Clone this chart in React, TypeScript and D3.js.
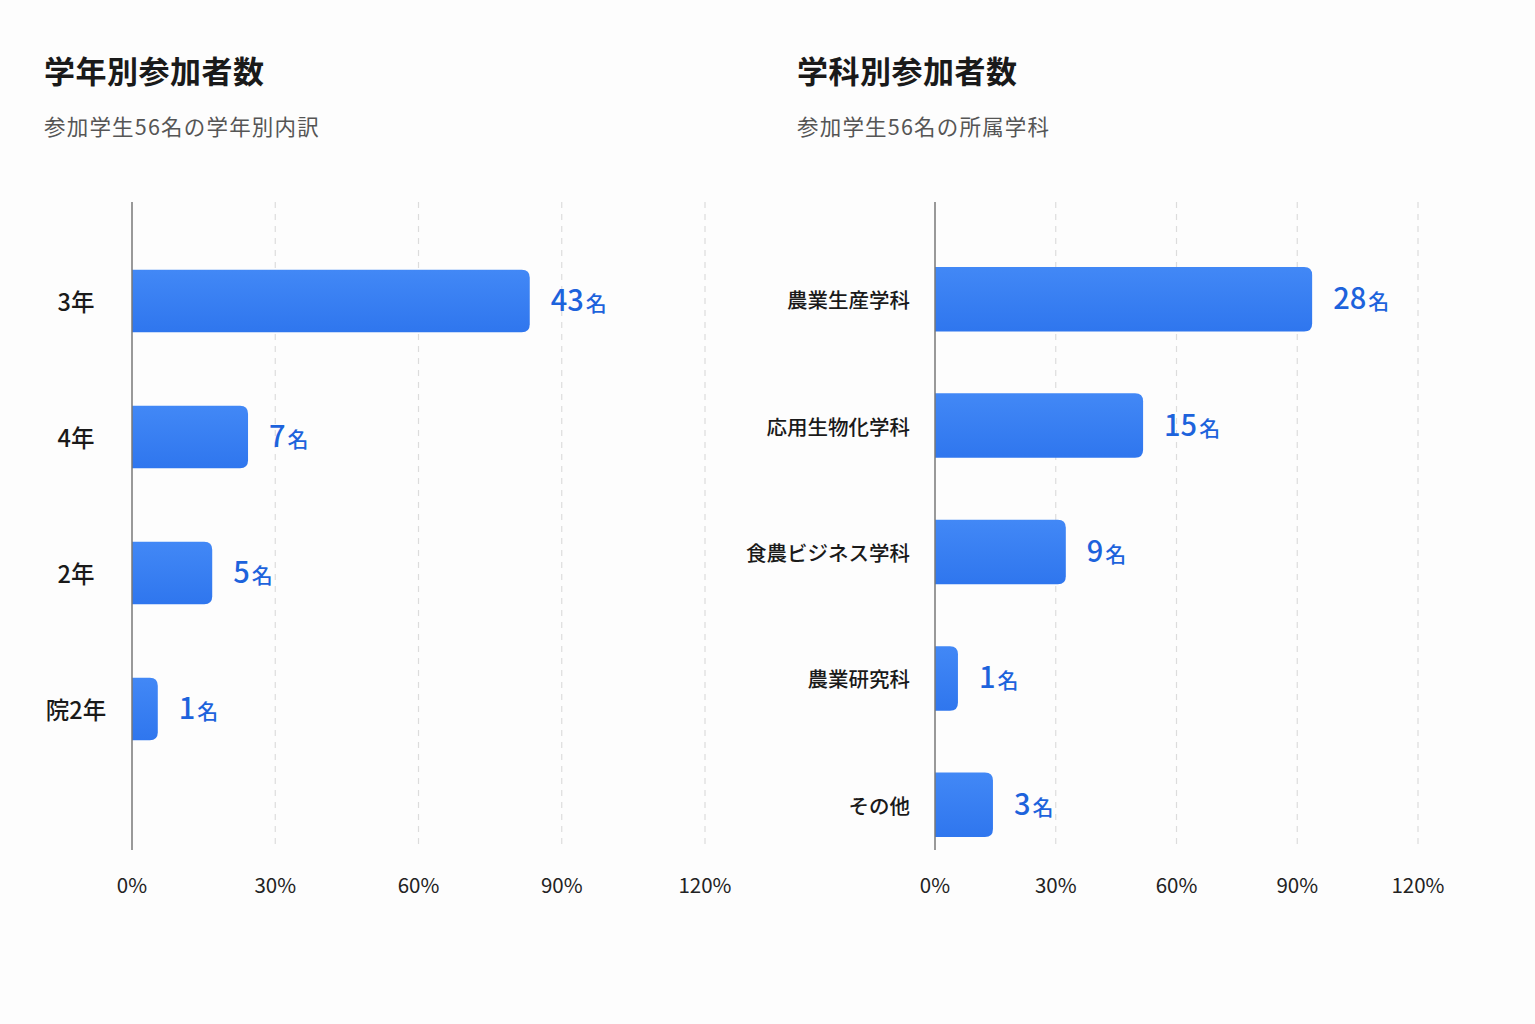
import * as d3 from 'd3';

// 学年別
const gradeCategories = ['3年', '4年', '2年', '院2年'];
const gradeCounts = [43, 7, 5, 1];
const gradeShare = [83.3, 24.3, 16.8, 5.4];

// 学科別
const deptCategories = ['農業生産学科', '応用生物化学科', '食農ビジネス学科', '農業研究科', 'その他'];
const deptCounts = [28, 15, 9, 1, 3];
const deptShare = [93.7, 51.7, 32.5, 5.7, 14.4];

const xTicks = [0, 30, 60, 90, 120];

const FONT = '"Noto Sans CJK JP", "Noto Sans", sans-serif';

interface PanelProps {
  id: string;
  title: string;
  subtitle: string;
  categories: string[];
  counts: number[];
  share: number[];
  left: number;
  x0: number;
  x1: number;
  bandRange: [number, number];
  padding: number;
  labelX: number;
  labelAnchor: 'middle' | 'end';
  labelSize: number;
}

function Panel({
  id,
  title,
  subtitle,
  categories,
  counts,
  share,
  left,
  x0,
  x1,
  bandRange,
  padding,
  labelX,
  labelAnchor,
  labelSize
}: PanelProps) {
  const x = d3.scaleLinear().domain([0, 120]).range([x0, x1]);
  const y = d3.scaleBand<string>()
    .domain(categories)
    .range(bandRange)
    .paddingInner(padding)
    .paddingOuter(padding / 2);
  const axisTop = 202;
  const axisBottom = 850;
  const r = 8;

  // right end rounded, left end square
  const barPath = (w: number, top: number, h: number) => {
    const rr = Math.min(r, w / 2);
    return `M${x0},${top}H${x0 + w - rr}Q${x0 + w},${top} ${x0 + w},${top + rr}` +
      `V${top + h - rr}Q${x0 + w},${top + h} ${x0 + w - rr},${top + h}H${x0}Z`;
  };

  return (
    <g>
      <defs>
        <linearGradient id={`grad-${id}`} x1="0" y1="0" x2="0" y2="1">
          <stop offset="0%" stopColor="#4288f6" />
          <stop offset="100%" stopColor="#2f76ee" />
        </linearGradient>
      </defs>
      <text x={left} y={83} fontSize={31} fontWeight={700} fill="#1a1a1a" letterSpacing={0.5}>{title}</text>
      <text x={left} y={135} fontSize={21.5} fill="#555" letterSpacing={1.2}>{subtitle}</text>

      {xTicks.slice(1).map(t => (
        <line key={t} x1={x(t)} x2={x(t)} y1={axisTop} y2={axisBottom}
          stroke="#dcdcdc" strokeWidth={1.2} strokeDasharray="6 6" />
      ))}

      {categories.map((c, i) => {
        const top = y(c)!;
        const h = y.bandwidth();
        const w = x(share[i]) - x0;
        const cy = top + h / 2;
        return (
          <g key={c}>
            <path d={barPath(w, top, h)} fill={`url(#grad-${id})`} />
            <text x={labelX} y={cy} textAnchor={labelAnchor} dominantBaseline="central"
              fontSize={labelSize} fontWeight={500} fill="#1a1a1a">{c}</text>
            <text x={x0 + w + 21} y={cy + 10} fill="#1d63dc">
              <tspan fontSize={29} fontWeight={500}>{counts[i]}</tspan>
              <tspan fontSize={21} fontWeight={500} dx={2}>名</tspan>
            </text>
          </g>
        );
      })}

      <line x1={x0} x2={x0} y1={axisTop} y2={axisBottom} stroke="#777" strokeWidth={1.5} />

      {xTicks.map(t => (
        <text key={t} x={x(t)} y={893} textAnchor="middle" fontSize={20.5} fill="#222">
          {`${t}%`}
        </text>
      ))}
    </g>
  );
}

export default function App() {
  return (
    <svg width={1535} height={1024} style={{ display: 'block', position: 'absolute', left: 0, top: 0 }}
      fontFamily={FONT}>
      <rect width={1535} height={1024} fill="#fdfdfd" />
      <Panel
        id="grade"
        title="学年別参加者数"
        subtitle="参加学生56名の学年別内訳"
        categories={gradeCategories}
        counts={gradeCounts}
        share={gradeShare}
        left={44}
        x0={132}
        x1={705}
        bandRange={[233, 777]}
        padding={0.54}
        labelX={76}
        labelAnchor="middle"
        labelSize={23.5}
      />
      <Panel
        id="dept"
        title="学科別参加者数"
        subtitle="参加学生56名の所属学科"
        categories={deptCategories}
        counts={deptCounts}
        share={deptShare}
        left={797}
        x0={935}
        x1={1418}
        bandRange={[236, 868]}
        padding={0.49}
        labelX={910}
        labelAnchor="end"
        labelSize={20.5}
      />
    </svg>
  );
}
